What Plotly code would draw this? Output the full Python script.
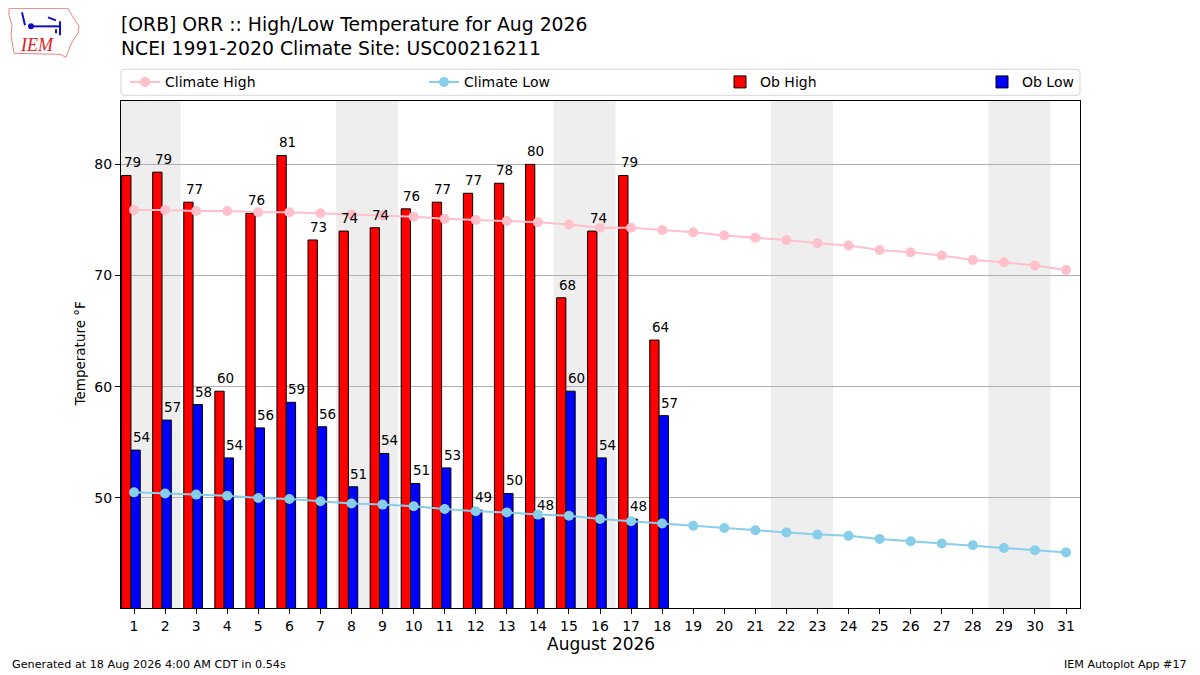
import datetime
import plotly.graph_objects as go

# observed high / low (F) for Aug 1-18 2026, ORB
obs_days = list(range(1, 19))
ob_high = [79.0, 79.3, 76.6, 59.6, 75.6, 80.8, 73.2, 74.0, 74.3,
           76.0, 76.6, 77.4, 78.3, 80.0, 68.0, 74.0, 79.0, 64.2]
ob_low = [54.3, 57.0, 58.4, 53.6, 56.3, 58.6, 56.4, 51.0, 54.0,
          51.3, 52.7, 48.9, 50.4, 48.2, 59.6, 53.6, 48.1, 57.4]

# NCEI 1991-2020 climatology for the whole month
clim_days = list(range(1, 32))
clim_high = [75.9, 75.9, 75.8, 75.8, 75.7, 75.7, 75.6, 75.5, 75.4, 75.3,
             75.1, 75.0, 74.9, 74.8, 74.6, 74.3, 74.3, 74.1, 73.9, 73.6,
             73.4, 73.2, 72.9, 72.7, 72.3, 72.1, 71.8, 71.4, 71.2, 70.9, 70.5]
clim_low = [50.5, 50.4, 50.3, 50.2, 50.0, 49.9, 49.7, 49.5, 49.4, 49.25,
            49.0, 48.8, 48.7, 48.5, 48.4, 48.1, 47.9, 47.7, 47.5, 47.3,
            47.1, 46.9, 46.7, 46.6, 46.3, 46.1, 45.9, 45.75, 45.5, 45.3, 45.1]

FONT = "DejaVu Sans"
XR = [0.58, 31.45]
YR = [40.1, 85.7]

# page pixel -> paper helpers (plot area on the page is 121..1080 x 100.7..608)
def px(x):
    return (x - 121) / 959.0

def py(y):
    return (608 - y) / 507.3

fig = go.Figure()

fig.add_trace(go.Bar(x=obs_days, y=ob_high, width=0.3, offset=-0.4,
                     marker=dict(color="red", line=dict(color="black", width=1)),
                     name="Ob High", legend="legend3"))
fig.add_trace(go.Bar(x=obs_days, y=ob_low, width=0.3, offset=-0.1,
                     marker=dict(color="blue", line=dict(color="black", width=1)),
                     name="Ob Low", legend="legend4"))
fig.add_trace(go.Scatter(x=clim_days, y=clim_high, mode="lines+markers",
                         line=dict(color="#FFC0CB", width=2),
                         marker=dict(color="#FFC0CB", size=10),
                         name="Climate High", legend="legend", showlegend=True))
fig.add_trace(go.Scatter(x=clim_days, y=clim_low, mode="lines+markers",
                         line=dict(color="#87CEEB", width=2),
                         marker=dict(color="#87CEEB", size=10),
                         name="Climate Low", legend="legend2"))

# weekend shading
shapes = []
for d in clim_days:
    if datetime.date(2026, 8, d).weekday() == 5:
        shapes.append(dict(type="rect", xref="x", yref="y",
                           x0=max(d - 0.5, XR[0]), x1=min(d + 1.5, XR[1]),
                           y0=YR[0], y1=YR[1], fillcolor="#eeeeee",
                           line=dict(width=0), layer="below"))

# legend frame with rounded corners
l, r, t, b, rad = 121, 1080, 69, 95, 3
frame = (f"M {px(l + rad)},{py(t)} L {px(r - rad)},{py(t)} Q {px(r)},{py(t)} {px(r)},{py(t + rad)} "
         f"L {px(r)},{py(b - rad)} Q {px(r)},{py(b)} {px(r - rad)},{py(b)} "
         f"L {px(l + rad)},{py(b)} Q {px(l)},{py(b)} {px(l)},{py(b - rad)} "
         f"L {px(l)},{py(t + rad)} Q {px(l)},{py(t)} {px(l + rad)},{py(t)} Z")
shapes.append(dict(type="path", xref="paper", yref="paper", path=frame,
                   line=dict(color="#d6d6d6", width=1), fillcolor="white",
                   layer="below"))

# rough IEM logo
iowa = [(9, 8), (68, 8), (70, 12), (74, 18), (79, 26), (78, 33), (73, 40),
        (70, 46), (68, 52), (66, 57), (60, 54), (14, 53), (13, 47), (11, 35),
        (12, 25), (9, 15)]
path = "M " + " L ".join(f"{px(a):.5f},{py(c):.5f}" for a, c in iowa) + " Z"
shapes.append(dict(type="path", xref="paper", yref="paper", path=path,
                   line=dict(color="#f08080", width=1)))
for a, c, e, f in [(31, 26, 60, 26), (60, 21, 60, 35), (48, 17, 56, 20),
                   (22, 12, 25, 25), (56, 29, 56, 33)]:
    shapes.append(dict(type="line", xref="paper", yref="paper",
                       x0=px(a), y0=py(c), x1=px(e), y1=py(f),
                       line=dict(color="#1010c0", width=2)))
shapes.append(dict(type="circle", xref="paper", yref="paper",
                   x0=px(28), x1=px(34), y0=py(29), y1=py(23),
                   fillcolor="#1010c0", line=dict(width=0)))

annotations = []
for dd, v in zip(obs_days, ob_high):
    annotations.append(dict(x=dd - 0.4, y=v, text=f"{v:.0f}", showarrow=False,
                            xanchor="left", yanchor="bottom", yshift=3,
                            font=dict(family=FONT, size=13.5, color="black")))
for dd, v in zip(obs_days, ob_low):
    annotations.append(dict(x=dd - 0.1, y=v, text=f"{v:.0f}", showarrow=False,
                            xanchor="left", yanchor="bottom", yshift=3,
                            font=dict(family=FONT, size=13.5, color="black")))

def paper_text(x, y, text, size, xanchor="left", **kw):
    annotations.append(dict(xref="paper", yref="paper", x=x, y=y, text=text,
                            showarrow=False, xanchor=xanchor, yanchor="middle",
                            font=dict(family=FONT, size=size, color="black"), **kw))

paper_text(px(119), py(24), "[ORB] ORR :: High/Low Temperature for Aug 2026", 18.8)
paper_text(px(119), py(48), "NCEI 1991-2020 Climate Site: USC00216211", 18.8)
paper_text(0.5, py(644), "August 2026", 17, xanchor="center")
paper_text(px(79), 0.5, "Temperature °F", 13.5, xanchor="center", textangle=-90)
paper_text(px(10), py(665), "Generated at 18 Aug 2026 4:00 AM CDT in 0.54s", 11.2)
paper_text(px(1189), py(665), "IEM Autoplot App #17", 11.1, xanchor="right")
annotations.append(dict(xref="paper", yref="paper", x=px(37), y=py(45), text="<i>IEM</i>",
                        showarrow=False, xanchor="center", yanchor="middle",
                        font=dict(family="Liberation Serif", size=18, color="#e02020")))

leg = dict(orientation="h", yanchor="middle", xanchor="left", y=py(82),
           bgcolor="rgba(0,0,0,0)", borderwidth=0,
           font=dict(family=FONT, size=14, color="black"))

# the page body adds 8px at top/left, so margins shift by 8
fig.update_layout(
    width=1192, height=667,
    margin=dict(l=113, r=120, t=93, b=67),
    paper_bgcolor="white", plot_bgcolor="white",
    barmode="overlay", showlegend=True,
    font=dict(family=FONT, size=14, color="black"),
    shapes=shapes, annotations=annotations,
    legend=dict(leg, x=px(125)),
    legend2=dict(leg, x=px(424)),
    legend3=dict(leg, x=px(720)),
    legend4=dict(leg, x=px(982)),
    xaxis=dict(range=XR, tickmode="array", tickvals=clim_days,
               showgrid=False, zeroline=False, ticks="outside", ticklen=5,
               tickcolor="black", showline=True, linecolor="black",
               linewidth=1, mirror=True, tickfont=dict(size=14)),
    yaxis=dict(range=YR, tickmode="array", tickvals=[50, 60, 70, 80],
               showgrid=True, gridcolor="#b0b0b0", gridwidth=1,
               zeroline=False, ticks="outside", ticklen=5,
               tickcolor="black", showline=True, linecolor="black",
               linewidth=1, mirror=True, tickfont=dict(size=14)),
)

fig.write_html("out.html")
